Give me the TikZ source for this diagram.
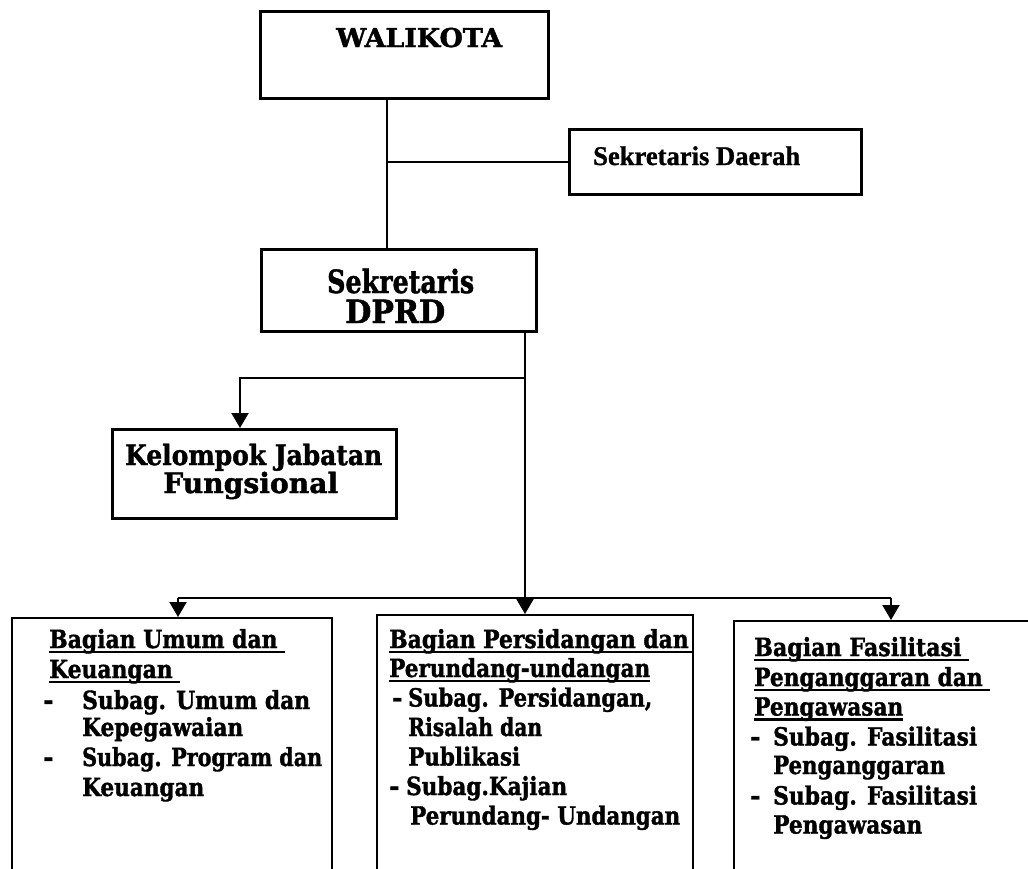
\documentclass[tikz,border=0pt]{standalone}
\usepackage{fontspec}
\usepackage{graphicx}
\usetikzlibrary{arrows.meta}
\newfontfamily\bk[BoldFeatures={FakeBold=1.5}]{DejaVu Serif}
\newfontfamily\tms[BoldFeatures={FakeBold=1}]{Liberation Serif}
\newcommand\fw[2]{\resizebox{#1pt}{\height}{#2}}
\newcommand\ulin[1]{\setbox0=\hbox{#1}\rlap{\rule[-0.2em]{\wd0}{0.1em}}\box0}
\begin{document}
\begin{tikzpicture}[x=1pt,y=-1pt,
  box/.style={draw,line width=2.7pt,inner sep=0pt,anchor=north west},
  bbox/.style={draw,line width=2pt,inner sep=0pt,anchor=north west},
  conn/.style={line width=2pt},
  arr/.style={line width=2pt,-{Triangle[width=17pt,length=15pt]}},
  txt/.style={inner sep=0pt,anchor=base west},
  bt/.style={txt,font=\bk\bfseries\fontsize{25}{29}\selectfont},
]
\useasboundingbox (0,0) rectangle (1028,868);
\clip (0,0) rectangle (1028,868);
\fill[white] (0,0) rectangle (1028,868);

% boxes
\node[box,minimum width=288pt,minimum height=87pt] (wali) at (259,10) {};
\node[box,minimum width=292pt,minimum height=65pt] (sekda) at (568,128) {};
\node[box,minimum width=275pt,minimum height=82pt] (dprd) at (260,248) {};
\node[box,minimum width=284pt,minimum height=89pt] (kel) at (111,428) {};
\node[bbox,minimum width=320pt,minimum height=300pt] (bl) at (11,617) {};
\node[bbox,minimum width=316pt,minimum height=300pt] (bm) at (376,614) {};
\node[bbox,minimum width=320pt,minimum height=300pt] (br) at (733,620) {};

% connectors
\coordinate (j1) at (387,162);
\coordinate (j2) at (525,378);
\coordinate (k1) at (240,378);
\coordinate (bL) at (178,598);
\coordinate (bR) at (891,598);
\draw[conn] (wali.south -| j1) -- (dprd.north -| j1);
\draw[conn] (j1) -- (sekda.west |- j1);
\draw[arr] (dprd.south -| j2) -- (bm.north -| j2);
\draw[arr] (j2) -- (k1) -- (kel.north -| k1);
\draw[conn] (bL) -- (bR);
\draw[arr] (bL) -- (bl.north -| bL);
\draw[arr] (bR) -- (br.north -| bR);

% top texts
\node[txt,font=\bk\bfseries\fontsize{26}{30}\selectfont] (twali) at (336,47) {\fw{166}{WALIKOTA}};
\node[txt,font=\tms\bfseries\fontsize{27}{30}\selectfont] (tsekda) at (593,165) {\fw{207}{Sekretaris Daerah}};
\node[txt,font=\bk\bfseries\fontsize{32}{36}\selectfont] (tdprd1) at (327,293) {\fw{147}{Sekretaris}};
\node[txt,font=\bk\bfseries\fontsize{32}{36}\selectfont] (tdprd2) at (345,323) {\fw{100}{DPRD}};
\node[txt,font=\bk\bfseries\fontsize{28}{32}\selectfont] (tkel1) at (125,465) {\fw{257}{Kelompok Jabatan}};
\node[txt,font=\bk\bfseries\fontsize{28}{32}\selectfont] (tkel2) at (163,493) {\fw{175}{Fungsional}};

% left box
\node[bt] (L1) at (49,648) {\fw{236}{\ulin{Bagian Umum dan\ }}};
\node[bt] (L2) at (49,678) {\fw{131}{\ulin{Keuangan\ }}};
\node[bt] (Ld1) at (43,709) {-};
\node[bt] (L3) at (82,709) {\fw{228}{Subag. Umum dan}};
\node[bt] (L4) at (82,736) {\fw{161}{Kepegawaian}};
\node[bt] (Ld2) at (43,766) {-};
\node[bt] (L5) at (82,766) {\fw{240}{Subag. Program dan}};
\node[bt] (L6) at (82,796) {\fw{122}{Keuangan}};

% middle box
\node[bt] (M1) at (389,648) {\fw{303}{\ulin{Bagian Persidangan dan\hspace{4pt}}}};
\node[bt] (M2) at (389,677) {\fw{261}{\ulin{Perundang-undangan}}};
\node[bt] (Md1) at (392,706.5) {-};
\node[bt] (M3) at (408,706.5) {\fw{244}{Subag. Persidangan,}};
\node[bt] (M4) at (408,736) {\fw{134}{Risalah dan}};
\node[bt] (M5) at (408,765.5) {\fw{112}{Publikasi}};
\node[bt] (Md2) at (389,795) {-};
\node[bt] (M6) at (406,795) {\fw{161}{Subag.Kajian}};
\node[bt] (M7) at (410,824.5) {\fw{270}{Perundang- Undangan}};

% right box
\node[bt] (R1) at (754,656) {\fw{215}{\ulin{Bagian Fasilitasi\ }}};
\node[bt] (R2) at (754,686) {\fw{236}{\ulin{Penganggaran dan\ }}};
\node[bt] (R3) at (754,715.5) {\fw{149}{\ulin{Pengawasan}}};
\node[bt] (Rd1) at (750,745.5) {-};
\node[bt] (R4) at (773,745.5) {\fw{204}{Subag. Fasilitasi}};
\node[bt] (R5) at (773,774) {\fw{172}{Penganggaran}};
\node[bt] (Rd2) at (750,804.5) {-};
\node[bt] (R6) at (773,804.5) {\fw{204}{Subag. Fasilitasi}};
\node[bt] (R7) at (773,833.5) {\fw{149}{Pengawasan}};
\end{tikzpicture}
\end{document}
